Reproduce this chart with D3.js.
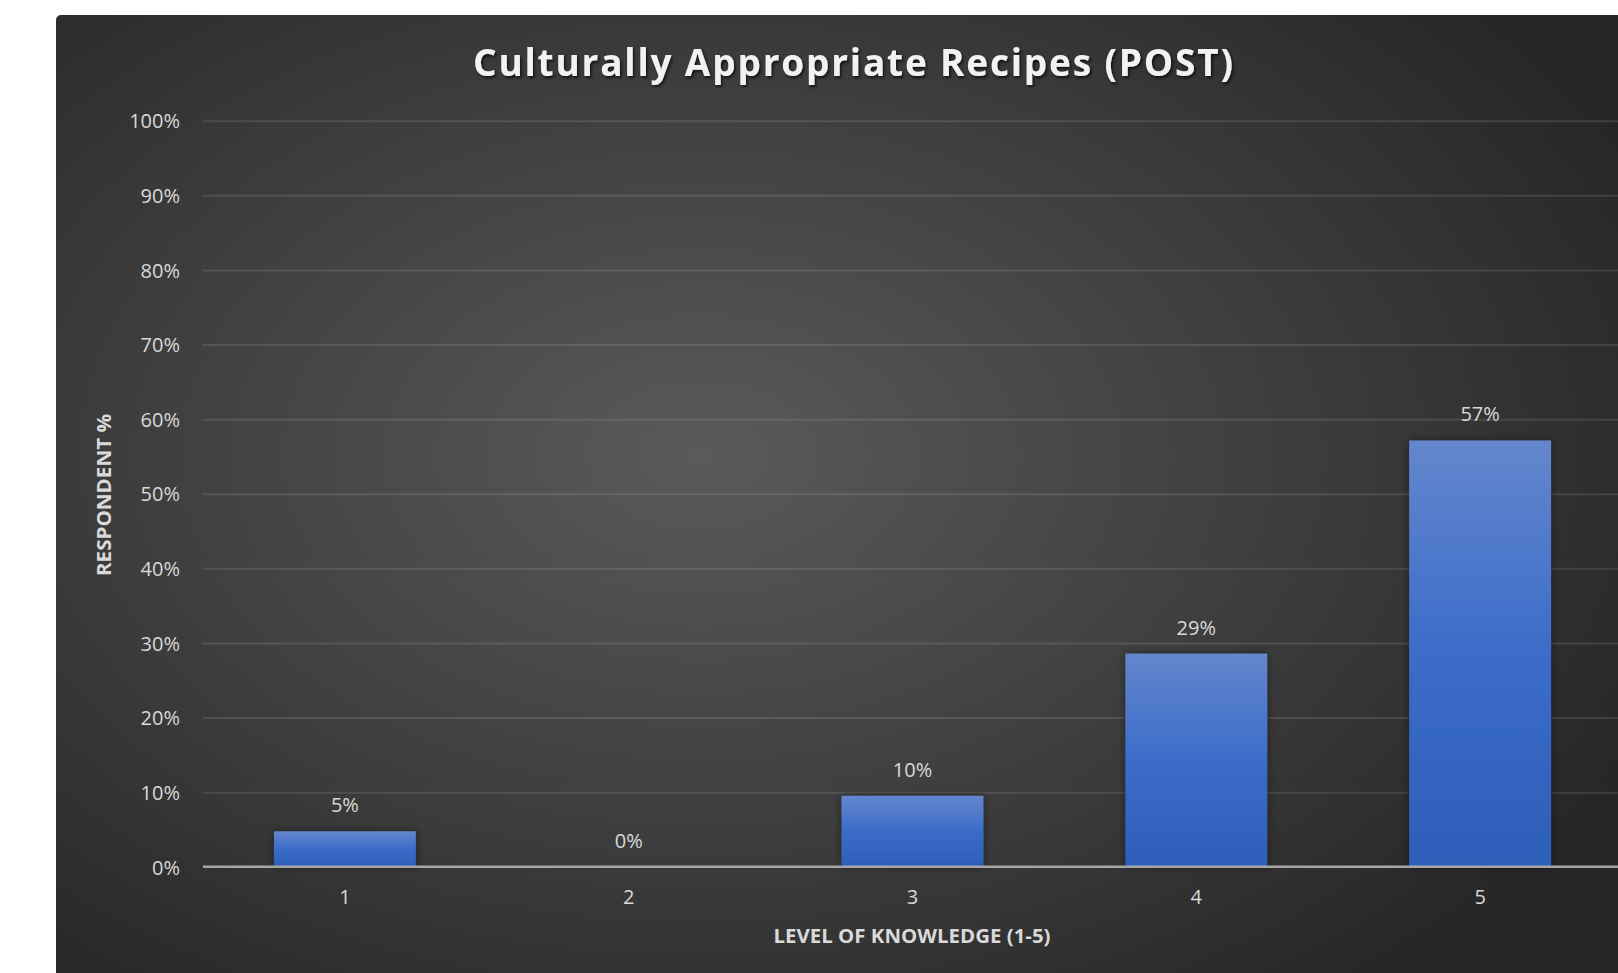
<!DOCTYPE html>
<html><head>
<meta charset="utf-8">
<script src="https://d3js.org/d3.v7.min.js"></script>
<style>
  body { margin: 0; background: #ffffff; }
  svg text { font-family: "Open Sans", "Noto Sans", sans-serif; }
  .gridlines line { stroke: #ffffff; stroke-opacity: 0.11; stroke-width: 2; }
  .gridlines .domain { stroke: none; }
  .axis .domain { stroke: none; }
  .axis line { stroke: none; }
  .axis text { fill: #d9d9d9; font-size: 20px; }
</style>
</head>
<body>
<svg id="svg1" width="1618" height="973"></svg>
<script>

// data
const levels = ["1", "2", "3", "4", "5"];
const respondentPct = [4.76, 0, 9.52, 28.57, 57.14];
const pctLabels = ["5%", "0%", "10%", "29%", "57%"];
const yTicks = [0, 10, 20, 30, 40, 50, 60, 70, 80, 90, 100];

const chartTitle = "Culturally Appropriate Recipes (POST)";
const xTitle = "LEVEL OF KNOWLEDGE (1-5)";
const yTitle = "RESPONDENT %";

let svg1 = d3.select("svg#svg1");
const margins = {top: 120.7, left: 203, right: -4, bottom: 106.2};
const svgWidth = +svg1.attr("width");
const svgHeight = +svg1.attr("height");
const chWidth = svgWidth - margins.left - margins.right;
const chHeight = svgHeight - margins.top - margins.bottom;

let defs = svg1.append("defs");

let bg = defs.append("radialGradient").attr("id", "bgGrad")
    .attr("cx", "0.38").attr("cy", "0.40").attr("r", "0.62");
bg.append("stop").attr("offset", "0%").attr("stop-color", "#5a5a5a");
bg.append("stop").attr("offset", "100%").attr("stop-color", "#262626");

let barGrad = defs.append("linearGradient").attr("id", "barGrad")
    .attr("x1", 0).attr("y1", 0).attr("x2", 0).attr("y2", 1);
barGrad.append("stop").attr("offset", "0%").attr("stop-color", "#6486cd");
barGrad.append("stop").attr("offset", "50%").attr("stop-color", "#3b6cc9");
barGrad.append("stop").attr("offset", "100%").attr("stop-color", "#2d5eb9");

let shadow = defs.append("filter").attr("id", "shadow")
    .attr("x", "-20%").attr("y", "-20%").attr("width", "140%").attr("height", "140%");
shadow.append("feDropShadow").attr("dx", 0).attr("dy", 0)
    .attr("stdDeviation", 4).attr("flood-color", "#000").attr("flood-opacity", 0.45);

let textShadow = defs.append("filter").attr("id", "textShadow")
    .attr("x", "-5%").attr("y", "-30%").attr("width", "110%").attr("height", "160%");
textShadow.append("feDropShadow").attr("dx", 1.5).attr("dy", 2)
    .attr("stdDeviation", 1.5).attr("flood-color", "#000").attr("flood-opacity", 0.7);

// background panel
svg1.append("rect")
    .attr("x", 56).attr("y", 15)
    .attr("width", 1700).attr("height", 1100)
    .attr("rx", 5)
    .attr("fill", "url(#bgGrad)");

let annotations = svg1.append("g");
let chartArea = svg1.append("g")
    .attr("transform", `translate(${margins.left},${margins.top})`);

let yScale = d3.scaleLinear().domain([0, 100]).range([chHeight, 0]);
let xScale = d3.scaleBand().domain(levels).range([0, chWidth])
    .paddingInner(0.5).paddingOuter(0.25);

// gridlines
let leftGrid = d3.axisLeft(yScale).tickValues(yTicks.slice(1))
    .tickSize(-chWidth).tickFormat("");
annotations.append("g")
    .attr("class", "gridlines")
    .attr("transform", `translate(${margins.left},${margins.top})`)
    .call(leftGrid);

// y axis labels
let leftAxis = d3.axisLeft(yScale).tickValues(yTicks)
    .tickSize(0).tickPadding(23).tickFormat(d => d + "%");
annotations.append("g")
    .attr("class", "y axis")
    .attr("transform", `translate(${margins.left},${margins.top})`)
    .call(leftAxis)
    .selectAll("text").attr("dy", "0.36em");

// x axis labels
let bottomAxis = d3.axisBottom(xScale).tickSize(0).tickPadding(23);
annotations.append("g")
    .attr("class", "x axis")
    .attr("transform", `translate(${margins.left},${margins.top + chHeight})`)
    .call(bottomAxis);

// bars
chartArea.selectAll("rect.bar").data(respondentPct)
    .join("rect")
    .attr("class", "bar")
    .attr("x", (d, i) => xScale(levels[i]))
    .attr("y", d => yScale(d))
    .attr("width", xScale.bandwidth())
    .attr("height", d => chHeight - yScale(d))
    .attr("fill", "url(#barGrad)")
    .attr("filter", "url(#shadow)");

// baseline
chartArea.append("line")
    .attr("x1", 0).attr("x2", chWidth)
    .attr("y1", yScale(0)).attr("y2", yScale(0))
    .attr("stroke", "#a6a6a6").attr("stroke-width", 2.5);

// data labels
chartArea.selectAll("text.lbl").data(respondentPct)
    .join("text")
    .attr("class", "lbl")
    .attr("x", (d, i) => xScale(levels[i]) + xScale.bandwidth() / 2)
    .attr("y", d => yScale(d) - 19)
    .attr("text-anchor", "middle")
    .attr("fill", "#d9d9d9")
    .style("font-size", "20px")
    .text((d, i) => pctLabels[i]);

// titles
svg1.append("text")
    .attr("x", 853).attr("y", 76)
    .attr("text-anchor", "middle")
    .attr("fill", "#f2f2f2")
    .attr("textLength", 760).attr("lengthAdjust", "spacing")
    .attr("filter", "url(#textShadow)")
    .style("font-size", "37px").style("font-weight", "bold")
    .text(chartTitle);

svg1.append("text")
    .attr("x", 912).attr("y", 943)
    .attr("text-anchor", "middle")
    .attr("fill", "#d9d9d9")
    .attr("textLength", 277).attr("lengthAdjust", "spacingAndGlyphs")
    .style("font-size", "20px").style("font-weight", "bold")
    .text(xTitle);

svg1.append("text")
    .attr("transform", "translate(111,495) rotate(-90)")
    .attr("text-anchor", "middle")
    .attr("fill", "#d9d9d9")
    .attr("textLength", 162).attr("lengthAdjust", "spacingAndGlyphs")
    .style("font-size", "20px").style("font-weight", "bold")
    .text(yTitle);

</script>
</body>
</html>
